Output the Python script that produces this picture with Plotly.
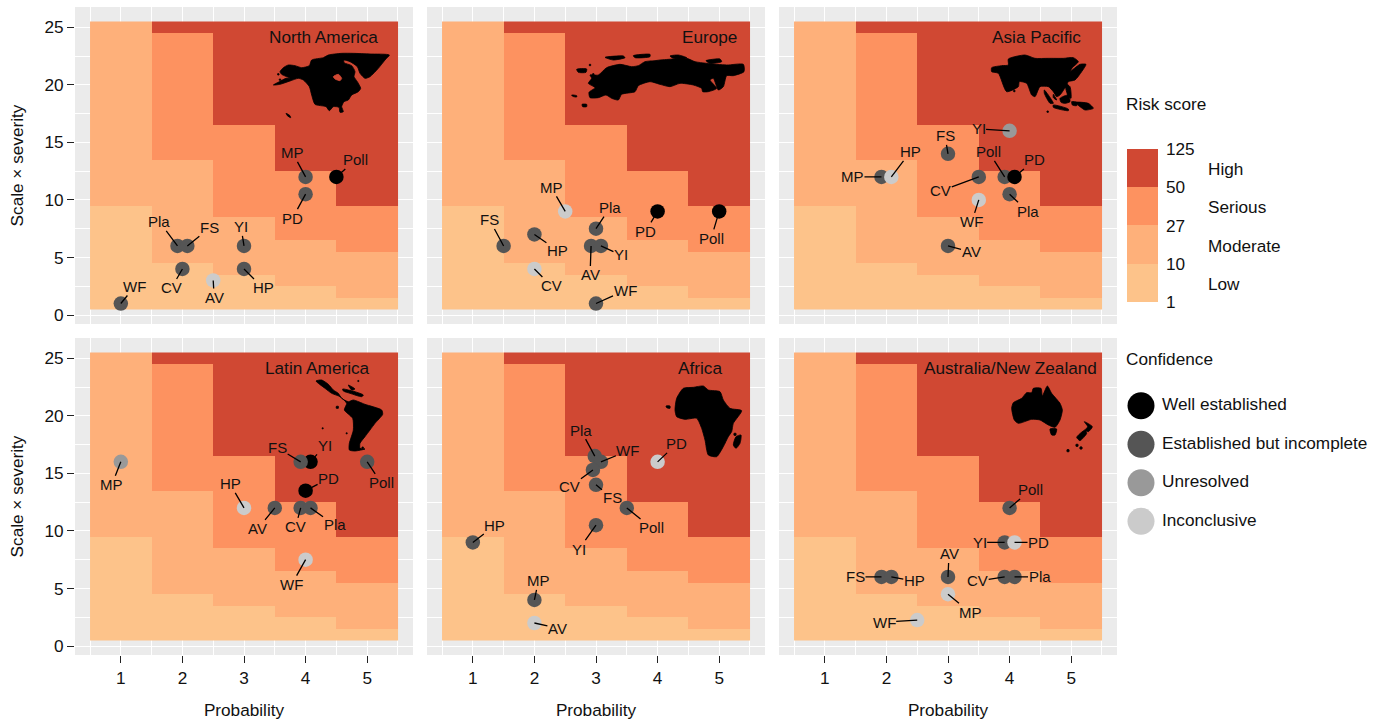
import plotly.graph_objects as go

# ---------- data ----------
probability = [1, 2, 3, 4, 5]
scale_severity = list(range(1, 26))
low_top = [9, 4, 3, 2, 1]
moderate_top = [25, 13, 8, 6, 5]
serious_top = [25, 24, 16, 12, 9]

risk_labels = ["1", "10", "27", "50", "125"]
risk_names = ["Low", "Moderate", "Serious", "High"]
confidence_names = ["Well established", "Established but incomplete", "Unresolved", "Inconclusive"]

na_labels = ["WF", "CV", "Pla", "FS", "AV", "YI", "HP", "MP", "PD", "Poll"]
na_x = [1, 2, 1.92, 2.08, 2.5, 3, 3, 4, 4, 4.5]
na_y = [1, 4, 6, 6, 3, 6, 4, 12, 10.5, 12]
na_conf = [1, 1, 1, 1, 3, 1, 1, 1, 1, 0]

eu_labels = ["FS", "HP", "MP", "CV", "Pla", "AV", "YI", "WF", "PD", "Poll"]
eu_x = [1.5, 2, 2.5, 2, 3, 2.92, 3.08, 3, 4, 5]
eu_y = [6, 7, 9, 4, 7.5, 6, 6, 1, 9, 9]
eu_conf = [1, 1, 3, 3, 1, 1, 1, 1, 0, 0]

ap_labels = ["MP", "HP", "FS", "YI", "Poll", "PD", "CV", "WF", "Pla", "AV"]
ap_x = [1.92, 2.08, 3, 4, 3.92, 4.08, 3.5, 3.5, 4, 3]
ap_y = [12, 12, 14, 16, 12, 12, 12, 10, 10.5, 6]
ap_conf = [1, 3, 1, 2, 1, 0, 1, 3, 1, 1]

la_labels = ["MP", "HP", "AV", "YI", "FS", "PD", "CV", "Pla", "WF", "Poll"]
la_x = [1, 3, 3.5, 4.08, 3.92, 4, 3.92, 4.08, 4, 5]
la_y = [16, 12, 12, 16, 16, 13.5, 12, 12, 7.5, 16]
la_conf = [2, 3, 1, 0, 1, 0, 1, 1, 3, 1]

af_labels = ["HP", "MP", "AV", "Pla", "WF", "CV", "FS", "Poll", "YI", "PD"]
af_x = [1, 2, 2, 2.98, 3.08, 2.95, 3, 3.5, 3, 4]
af_y = [9, 4, 2, 16.5, 16, 15.3, 14, 12, 10.5, 16]
af_conf = [1, 1, 3, 1, 1, 1, 1, 1, 1, 3]

an_labels = ["FS", "HP", "AV", "MP", "WF", "Poll", "YI", "PD", "CV", "Pla"]
an_x = [1.92, 2.08, 3, 3, 2.5, 4, 3.92, 4.08, 3.92, 4.08]
an_y = [6, 6, 6, 4.5, 2.25, 12, 9, 9, 6, 6]
an_conf = [1, 1, 1, 3, 3, 1, 1, 3, 1, 1]

# ---------- styling and placement (pixels) ----------
W, H = 1384, 720
COLUMNS = [(75, 413), (427, 765), (779, 1117)]
ROWS = [(7, 324), (338, 655)]
X_RANGE = [0.256, 5.744]
Y_RANGE = [-0.78, 26.76]
ZONE_COLORS = ["#FDC38A", "#FEB07A", "#FD9260", "#D04833"]
CONF_COLORS = ["#000000", "#555555", "#999999", "#CBCBCB"]
FONT = "Liberation Sans, Arial, sans-serif"
TEXT = "#111111"
BIG = 17.2

PANELS = [
    ("North America", na_labels, na_x, na_y, na_conf, 0, 0, 380, 37,
     {"WF": (14, -17), "CV": (-11, 19), "Pla": (-18, -24), "FS": (22, -18), "AV": (1, 17),
      "YI": (-3, -19), "HP": (19, 19), "MP": (-13, -24), "PD": (-13, 24), "Poll": (19, -17)}),
    ("Europe", eu_labels, eu_x, eu_y, eu_conf, 1, 0, 739, 37,
     {"FS": (-14, -26), "HP": (23, 16), "MP": (-14, -24), "CV": (17, 17), "Pla": (14, -21),
      "AV": (-1, 29), "YI": (20, 9), "WF": (29, -13), "PD": (-12, 20), "Poll": (-8, 27)}),
    ("Asia Pacific", ap_labels, ap_x, ap_y, ap_conf, 2, 0, 1083, 37,
     {"MP": (-29, 0), "HP": (19, -25), "FS": (-3, -18), "YI": (-31, -2), "Poll": (-16, -25),
      "PD": (20, -17), "CV": (-38, 14), "WF": (-7, 22), "Pla": (18, 17), "AV": (23, 6)}),
    ("Latin America", la_labels, la_x, la_y, la_conf, 0, 1, 372, 368,
     {"MP": (-9, 23), "HP": (-14, -24), "AV": (-17, 21), "FS": (-23, -14), "YI": (14, -16),
      "PD": (23, -12), "CV": (-5, 19), "Pla": (24, 17), "WF": (-14, 25), "Poll": (14, 21)}),
    ("Africa", af_labels, af_x, af_y, af_conf, 1, 1, 724, 368,
     {"HP": (22, -17), "MP": (4, -19), "AV": (23, 5), "Pla": (-14, -26), "WF": (27, -11),
      "CV": (-23, 17), "FS": (16, 13), "Poll": (25, 20), "YI": (-17, 24), "PD": (19, -18)}),
    ("Australia/New Zealand", an_labels, an_x, an_y, an_conf, 2, 1, 1099, 368,
     {"FS": (-26, 0), "HP": (23, 4), "AV": (1, -23), "MP": (22, 18), "WF": (-33, 2),
      "Poll": (21, -18), "YI": (-25, 0), "PD": (24, 0), "CV": (-27, 4), "Pla": (25, 0)}),
]

# Region silhouettes: outlines, as (origin px, 3x offsets)
def dot(x, y, r=3):
    return [(x - r, y - r), (x + r, y - r), (x + r, y + r), (x - r, y + r)]

MAPS = {
    "North America": ((270, 45), [
        [(10,120),(28,110),(48,100),(60,100),(35,88),(30,80),(40,68),(55,60),(75,62),(95,68),(118,62),(125,45),
         (160,38),(175,30),(215,25),(250,25),(300,27),(358,30),(345,45),(325,70),(300,95),(285,100),(270,85),
         (262,65),(240,50),(222,45),(222,53),(245,62),(255,80),(252,95),(262,110),(272,130),(265,140),(245,150),
         (235,165),(222,170),(215,185),(220,200),(210,202),(207,187),(190,185),(178,197),(168,185),(135,178),
         (125,150),(118,125),(100,105),(85,100),(60,108),(30,118)],
        [(48,205),(60,212),(62,218),(52,212)], dot(30,104,2), dot(25,88,2)],
        [[(190,95),(205,88),(215,100),(210,107),(195,102)]]),
    "Europe": ((570, 45), [
        [(55,115),(65,100),(60,90),(85,90),(110,68),(150,58),(185,65),(205,62),(225,50),(255,47),(270,45),(310,42),
         (350,40),(375,50),(410,55),(470,60),(520,58),(522,80),(490,92),(470,92),(460,125),(445,135),(430,100),
         (420,105),(440,130),(415,140),(398,140),(395,130),(370,120),(330,115),(300,125),(270,118),(240,110),
         (205,122),(195,140),(155,148),(145,165),(125,160),(108,150),(85,158),(60,158),(57,142),(75,128)],
        [(20,73),(50,72),(48,82),(25,82)], [(105,37),(160,33),(165,38),(130,45)],
        [(190,32),(240,28),(240,35),(195,38)], [(408,47),(450,42),(455,50),(420,55)],
        [(300,33),(325,30),(350,38),(310,40)], [(36,178),(50,178),(50,185),(38,185)],
        [(5,150),(20,152),(20,156),(8,154)], dot(60,60,2), dot(70,88,2)], []),
    "Asia Pacific": ((985, 45), [
        [(20,68),(50,62),(70,60),(70,42),(120,30),(150,40),(190,40),(235,40),(265,38),(280,50),(262,68),(255,80),
         (285,58),(303,58),(290,80),(270,105),(250,110),(245,120),(225,150),(215,155),(205,140),(190,125),(165,125),
         (150,155),(140,150),(125,115),(103,110),(100,125),(65,140),(40,85),(20,80)],
        [(178,135),(190,150),(205,175),(195,175),(178,145)], [(205,180),(250,192),(250,197),(205,187)],
        [(225,160),(250,150),(255,170),(240,175),(228,172)], [(240,115),(255,125),(258,160),(248,150)],
        [(270,172),(310,175),(325,190),(300,195),(285,185)], [(260,170),(275,172),(275,182),(262,180)],
        [(205,148),(215,165),(205,158)], dot(88,138,2), dot(188,200,2)], []),
    "Latin America": ((310, 375), [
        [(18,18),(35,15),(55,28),(70,45),(85,55),(95,70),(115,80),(130,75),(165,88),(215,105),(218,118),(195,145),
         (180,165),(165,185),(150,205),(150,220),(165,222),(135,228),(118,225),(118,205),(130,165),(128,130),
         (103,105),(110,85),(90,65),(65,55),(45,40)],
        [(98,42),(115,45),(135,50),(160,60),(155,65),(120,55),(100,48)], [(115,30),(135,42),(125,45)],
        dot(82,97,3), dot(158,218,2), dot(145,18,1.5), dot(38,160,1.5), dot(110,175,1.5)], []),
    "Africa": ((660, 380), [
        [(45,90),(50,55),(70,25),(100,22),(130,18),(145,30),(180,35),(190,60),(210,85),(245,92),(220,130),(215,155),
         (205,170),(190,200),(170,230),(145,225),(135,180),(125,145),(110,115),(75,118),(50,110)],
        [(228,170),(243,165),(240,190),(228,205),(220,195)], [(18,78),(30,78),(30,85),(20,83)], dot(225,163,3)], []),
    "Australia/New Zealand": ((1005, 380), [
        [(20,85),(25,68),(50,55),(65,38),(80,38),(85,25),(108,25),(112,48),(127,18),(140,40),(165,70),(172,90),
         (165,120),(150,142),(130,135),(105,120),(80,118),(40,130),(28,120)],
        [(135,147),(155,147),(150,165),(140,165)], [(238,125),(262,140),(250,155),(240,150),(248,140)],
        [(240,150),(245,160),(225,182),(215,172)], dot(216,196,3), dot(228,204,3), dot(189,212,3)], []),
}

def px_to_data(px, py, col, row):
    x0, x1 = COLUMNS[col]
    y0, y1 = ROWS[row]
    dx = X_RANGE[0] + (px - x0) / (x1 - x0) * (X_RANGE[1] - X_RANGE[0])
    dy = Y_RANGE[1] - (py - y0) / (y1 - y0) * (Y_RANGE[1] - Y_RANGE[0])
    return dx, dy

# risk-zone matrix, rows = scale x severity, columns = probability
z = []
for s in scale_severity:
    row_vals = []
    for i in range(len(probability)):
        if s <= low_top[i]:
            row_vals.append(0.5)
        elif s <= moderate_top[i]:
            row_vals.append(1.5)
        elif s <= serious_top[i]:
            row_vals.append(2.5)
        else:
            row_vals.append(3.5)
    z.append(row_vals)

colorscale = []
for i, c in enumerate(ZONE_COLORS):
    colorscale += [[i / 4, c], [(i + 1) / 4, c]]

fig = go.Figure()
annotations = []
layout_axes = {}

for idx, (name, labels, xs, ys, conf, col, row, tx, ty, offsets) in enumerate(PANELS):
    n = idx + 1
    xa = f"x{n}" if n > 1 else "x"
    ya = f"y{n}" if n > 1 else "y"
    xkey = f"xaxis{n}" if n > 1 else "xaxis"
    ykey = f"yaxis{n}" if n > 1 else "yaxis"
    x0, x1 = COLUMNS[col]
    y0, y1 = ROWS[row]
    layout_axes[xkey] = dict(
        domain=[x0 / W, x1 / W], range=X_RANGE, anchor=ya, tickmode="array", tickvals=probability,
        showticklabels=row == 1, ticks="outside" if row == 1 else "", ticklen=7, tickwidth=1, tickcolor="#222222",
        tickfont=dict(size=BIG, color=TEXT), zeroline=False, showline=False, showgrid=True,
        gridcolor="#FFFFFF", gridwidth=1.4,
        minor=dict(tickmode="array", tickvals=[0.5, 1.5, 2.5, 3.5, 4.5, 5.5], showgrid=True, gridcolor="#FFFFFF", gridwidth=1.4),
        title=dict(text="Probability", font=dict(size=BIG, color=TEXT), standoff=22) if row == 1 else None,
    )
    layout_axes[ykey] = dict(
        domain=[1 - y1 / H, 1 - y0 / H], range=Y_RANGE, anchor=xa, tickmode="array", tickvals=[0, 5, 10, 15, 20, 25],
        showticklabels=col == 0, ticks="outside" if col == 0 else "", ticklen=7, tickwidth=1, tickcolor="#222222",
        tickfont=dict(size=BIG, color=TEXT), zeroline=False, showline=False, showgrid=True,
        gridcolor="#FFFFFF", gridwidth=1.4,
        minor=dict(tickmode="array", tickvals=[2.5, 7.5, 12.5, 17.5, 22.5], showgrid=True, gridcolor="#FFFFFF", gridwidth=1.4),
        title=dict(text="Scale × severity", font=dict(size=BIG, color=TEXT), standoff=16) if col == 0 else None,
    )

    fig.add_trace(go.Heatmap(
        x=probability, y=scale_severity, z=z, xaxis=xa, yaxis=ya, zmin=0, zmax=4, colorscale=colorscale,
        showscale=idx == 0, hoverinfo="skip", xgap=0, ygap=0,
        colorbar=dict(
            x=1127 / W, xanchor="left", xpad=0, y=1 - 149 / H, yanchor="top", ypad=0, lenmode="pixels", len=153,
            thicknessmode="pixels", thickness=31, outlinewidth=0, tickmode="array", tickvals=[0, 1, 2, 3, 4],
            ticktext=risk_labels, ticks="outside", ticklen=5, tickcolor="rgba(0,0,0,0)",
            tickfont=dict(size=BIG, color=TEXT),
        ) if idx == 0 else None,
    ))

    # silhouette
    (ox, oy), polys, holes = MAPS[name]
    for polys_group, colour in ((polys, "#000000"), (holes, ZONE_COLORS[3])):
        mx, my = [], []
        for poly in polys_group:
            for zx, zy in list(poly) + [poly[0]]:
                dx, dy = px_to_data(ox + zx / 3, oy + zy / 3, col, row)
                mx.append(dx)
                my.append(dy)
            mx.append(None)
            my.append(None)
        if mx:
            fig.add_trace(go.Scatter(
                x=mx, y=my, xaxis=xa, yaxis=ya, mode="lines", fill="toself", fillcolor=colour,
                line=dict(color=colour, width=0.8, shape="spline", smoothing=0.6), hoverinfo="skip", showlegend=False,
            ))

    # risks
    fig.add_trace(go.Scatter(
        x=xs, y=ys, xaxis=xa, yaxis=ya, mode="markers", text=labels, showlegend=False,
        marker=dict(size=14.5, color=[CONF_COLORS[c] for c in conf], line=dict(width=0)),
        hovertemplate="%{text}<extra>" + name + "</extra>",
    ))
    for lab, xv, yv in zip(labels, xs, ys):
        ax, ay = offsets[lab]
        annotations.append(dict(
            x=xv, y=yv, xref=xa, yref=ya, text=lab, ax=ax, ay=ay, axref="pixel", ayref="pixel",
            showarrow=True, arrowhead=0, arrowwidth=1.3, arrowcolor="#000000", standoff=0,
            font=dict(size=15, color=TEXT), borderpad=0,
        ))

    annotations.append(dict(
        x=tx / W, y=1 - ty / H, xref="paper", yref="paper", text=name, showarrow=False, xanchor="right",
        yanchor="middle", font=dict(size=BIG, color=TEXT),
    ))

# confidence legend, drawn on its own hidden axes
leg_x = [0, 0, 0, 0]
leg_text_x = [21, 21, 21, 21]
leg_y = [4, 3, 2, 1]
fig.add_trace(go.Scatter(
    x=leg_x, y=leg_y, xaxis="x7", yaxis="y7", mode="markers", showlegend=False, hoverinfo="skip",
    marker=dict(size=27, color=CONF_COLORS, line=dict(width=0)),
))
fig.add_trace(go.Scatter(
    x=leg_text_x, y=leg_y, xaxis="x7", yaxis="y7", mode="text", text=confidence_names,
    textposition="middle right", textfont=dict(size=BIG, color=TEXT), showlegend=False, hoverinfo="skip",
    cliponaxis=False,
))
layout_axes["xaxis7"] = dict(domain=[1127 / W, 1], range=[-14, 243], visible=False, anchor="y7", fixedrange=True)
layout_axes["yaxis7"] = dict(domain=[1 - 540.5 / H, 1 - 386.5 / H], range=[0.5, 4.5], visible=False, anchor="x7", fixedrange=True)

# headings and zone names
for text, x, y in [("Risk score", 1124, 104), ("Confidence", 1124, 359)]:
    annotations.append(dict(x=x / W, y=1 - y / H, xref="paper", yref="paper", text=text, showarrow=False,
                            xanchor="left", yanchor="middle", font=dict(size=BIG, color=TEXT)))
for text, y in zip(risk_names, [284, 246, 207, 169]):
    annotations.append(dict(x=1206 / W, y=1 - y / H, xref="paper", yref="paper", text=text, showarrow=False,
                            xanchor="left", yanchor="middle", font=dict(size=BIG, color=TEXT)))

fig.update_layout(
    width=W, height=H, margin=dict(l=0, r=0, t=0, b=0, autoexpand=False), paper_bgcolor="#FFFFFF",
    plot_bgcolor="#EBEBEB", font=dict(family=FONT, color=TEXT), showlegend=False, annotations=annotations,
    shapes=[dict(type="rect", xref="x7 domain", yref="y7 domain", x0=-0.02, x1=1.02, y0=-0.03, y1=1.03,
                 fillcolor="#FFFFFF", line=dict(width=0), layer="below")],
    **layout_axes,
)
fig.write_html("out.html", config={"displayModeBar": False},
               post_script="document.body.style.margin='0';document.documentElement.style.overflow='hidden';")
